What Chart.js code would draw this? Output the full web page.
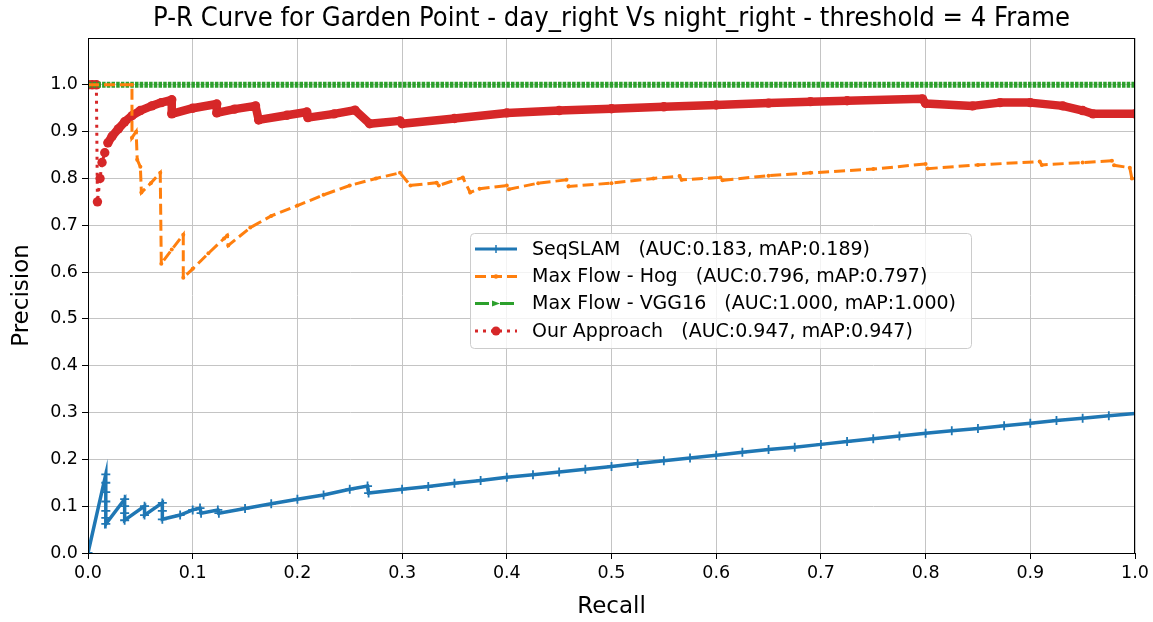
<!DOCTYPE html>
<html>
<head>
<meta charset="utf-8">
<script src="https://cdn.jsdelivr.net/npm/chart.js@4.4.1/dist/chart.umd.min.js"></script>
<style>
    html, body { margin: 0; padding: 0; background: #fff; }
    #pr { display: block; }
</style>
</head>
<body>
<canvas id="pr" width="1153" height="622"></canvas>
<script>
// ============================================================================
// Data
// ============================================================================

const seqRecall = [0, 0.017, 0.017, 0.017, 0.017, 0.017, 0.017, 0.017, 0.035, 0.035, 0.035, 0.035,
    0.054, 0.054, 0.071, 0.071, 0.071, 0.088, 0.1, 0.107, 0.108, 0.124, 0.125, 0.15, 0.175, 0.2,
    0.225, 0.25, 0.267, 0.268, 0.3, 0.325, 0.35, 0.375, 0.4, 0.425, 0.45, 0.475, 0.5, 0.525,
    0.55, 0.575, 0.6, 0.625, 0.65, 0.675, 0.7, 0.725, 0.75, 0.775, 0.8, 0.825, 0.85, 0.875,
    0.9, 0.925, 0.95, 0.975, 1.0];
const seqPrecision = [0, 0.168, 0.15, 0.13, 0.11, 0.09, 0.075, 0.062, 0.115, 0.1, 0.085, 0.07,
    0.1, 0.081, 0.107, 0.09, 0.072, 0.081, 0.092, 0.096, 0.085, 0.092, 0.085, 0.095, 0.105, 0.115,
    0.124, 0.136, 0.143, 0.128, 0.136, 0.142, 0.149, 0.155, 0.162, 0.167, 0.173, 0.179, 0.185, 0.191,
    0.197, 0.203, 0.209, 0.215, 0.221, 0.226, 0.232, 0.238, 0.244, 0.25, 0.256, 0.261, 0.266, 0.272,
    0.277, 0.283, 0.288, 0.293, 0.298];

const hogRecall = [0, 0.042, 0.042, 0.046, 0.047, 0.05, 0.051, 0.06, 0.069, 0.07, 0.08, 0.091,
    0.091, 0.1, 0.115, 0.13, 0.133, 0.134, 0.155, 0.175, 0.2, 0.225, 0.25, 0.275, 0.298, 0.308,
    0.333, 0.335, 0.358, 0.365, 0.374, 0.4, 0.402, 0.43, 0.457, 0.459, 0.5, 0.54, 0.565, 0.567,
    0.604, 0.606, 0.65, 0.69, 0.75, 0.8, 0.802, 0.85, 0.909, 0.911, 0.95, 0.978, 0.98, 0.995,
    0.997, 1.0];
const hogPrecision = [1.0, 1.0, 0.887, 0.9, 0.84, 0.825, 0.77, 0.79, 0.812, 0.618, 0.648, 0.68,
    0.588, 0.607, 0.64, 0.672, 0.678, 0.657, 0.695, 0.72, 0.742, 0.765, 0.785, 0.8, 0.812, 0.785,
    0.791, 0.785, 0.802, 0.77, 0.778, 0.785, 0.777, 0.79, 0.797, 0.783, 0.79, 0.8, 0.805, 0.797,
    0.802, 0.796, 0.806, 0.812, 0.82, 0.831, 0.821, 0.829, 0.836, 0.829, 0.834, 0.838, 0.828, 0.823,
    0.8, 0.8];

const vggRecall = [0, 1.0];
const vggPrecision = [1.0, 1.0];

const oursRecall = [0, 0.004, 0.008, 0.009, 0.0115, 0.0134, 0.016, 0.019, 0.023, 0.029, 0.035,
    0.042, 0.05, 0.061, 0.07, 0.08, 0.08, 0.1, 0.123, 0.123, 0.14, 0.16, 0.163, 0.19, 0.209, 0.21,
    0.235, 0.255, 0.269, 0.298, 0.3, 0.35, 0.4, 0.45, 0.5, 0.55, 0.6, 0.65, 0.69, 0.725, 0.797,
    0.8, 0.845, 0.871, 0.9, 0.931, 0.95, 0.96, 1.0];
const oursPrecision = [1.0, 1.0, 1.0, 0.75, 0.8, 0.834, 0.855, 0.876, 0.89, 0.906, 0.921,
    0.934, 0.945, 0.955, 0.962, 0.968, 0.938, 0.95, 0.959, 0.94, 0.948, 0.955, 0.925, 0.935, 0.942, 0.93,
    0.938, 0.946, 0.917, 0.923, 0.917, 0.928, 0.94, 0.945, 0.949, 0.953, 0.957, 0.961, 0.964, 0.966, 0.97,
    0.96, 0.955, 0.962, 0.962, 0.955, 0.945, 0.938, 0.938];

const seriesLabels = [
    'SeqSLAM   (AUC:0.183, mAP:0.189)',
    'Max Flow - Hog   (AUC:0.796, mAP:0.797)',
    'Max Flow - VGG16   (AUC:1.000, mAP:1.000)',
    'Our Approach   (AUC:0.947, mAP:0.947)'
];
const xTicks = [0, 0.1, 0.2, 0.3, 0.4, 0.5, 0.6, 0.7, 0.8, 0.9, 1.0];
const yTicks = [0, 0.1, 0.2, 0.3, 0.4, 0.5, 0.6, 0.7, 0.8, 0.9, 1.0];

const chartTitle = 'P-R Curve for Garden Point - day_right Vs night_right - threshold = 4 Frame';

// ============================================================================
// Styling
// ============================================================================

const FONT = "'DejaVu Sans', sans-serif";
const COLORS = {
    blue: '#1f77b4',
    orange: '#ff7f0e',
    green: '#2ca02c',
    red: '#d62728'
};

const toPoints = (xs, ys) => xs.map((x, i) => ({ x, y: ys[i] }));

// red curve: first few points are joined by a thin dotted line
const isThinRed = (i) => i >= 2 && i < 7;

/**
 * Matplotlib style frame, title and legend
 */
const mplDecor = {
    id: 'mplDecor',
    afterDatasetsDraw(chart) {
        const { ctx, chartArea: a } = chart;
        ctx.save();

        // frame
        ctx.strokeStyle = '#000';
        ctx.lineWidth = 1;
        ctx.strokeRect(a.left + 0.5, a.top + 0.5, a.right - a.left - 1, a.bottom - a.top);

        // legend box
        const box = { x: 470, y: 233, w: 501, h: 115 };
        ctx.fillStyle = 'rgba(255,255,255,0.8)';
        ctx.strokeStyle = '#cccccc';
        ctx.beginPath();
        ctx.roundRect(box.x + 0.5, box.y + 0.5, box.w, box.h, 4);
        ctx.fill();
        ctx.stroke();

        const rowY = [249, 276.5, 303.5, 331];
        chart.data.datasets.forEach((ds, i) => {
            const y = rowY[i];
            const x0 = 475, x1 = 517, xm = (x0 + x1) / 2;
            ctx.strokeStyle = ds.borderColor;
            ctx.lineWidth = ds.legendWidth;
            ctx.setLineDash(ds.legendDash || []);
            ctx.beginPath();
            ctx.moveTo(x0, y);
            ctx.lineTo(x1, y);
            ctx.stroke();
            ctx.setLineDash([]);

            ctx.fillStyle = ds.borderColor;
            ctx.strokeStyle = ds.borderColor;
            if (ds.legendMarker === 'plus') {
                ctx.lineWidth = 1.5;
                ctx.beginPath();
                ctx.moveTo(xm, y - 4); ctx.lineTo(xm, y + 4);
                ctx.stroke();
            } else if (ds.legendMarker === 'dot') {
                ctx.beginPath(); ctx.arc(xm, y, 2.2, 0, Math.PI * 2); ctx.fill();
            } else if (ds.legendMarker === 'star') {
                ctx.beginPath();
                ctx.moveTo(xm - 4, y - 3); ctx.lineTo(xm + 4, y); ctx.lineTo(xm - 4, y + 3);
                ctx.closePath(); ctx.fill();
            } else if (ds.legendMarker === 'circle') {
                ctx.beginPath(); ctx.arc(xm, y, 4.5, 0, Math.PI * 2); ctx.fill();
            }

            ctx.fillStyle = '#000';
            ctx.font = '19px ' + FONT;
            ctx.textBaseline = 'middle';
            ctx.textAlign = 'left';
            ctx.fillText(ds.label, 532, y + 1);
        });

        // title, squeezed to the reference width
        ctx.font = '26px ' + FONT;
        ctx.textAlign = 'center';
        ctx.textBaseline = 'middle';
        ctx.fillStyle = '#000';
        const w = ctx.measureText(chartTitle).width;
        const sx = Math.min(1, 917 / w);
        ctx.translate((a.left + a.right) / 2, 19);
        ctx.scale(sx, 1);
        ctx.fillText(chartTitle, 0, 0);

        ctx.restore();
    }
};

const tickFont = { family: FONT, size: 17.5 };
const axisTitleFont = { family: FONT, size: 23 };
const gridStyle = {
    color: '#c4c4c4',
    lineWidth: 1,
    tickColor: '#000',
    tickLength: 6,
    drawTicks: true
};

new Chart(document.getElementById('pr'), {
    type: 'scatter',
    data: {
        datasets: [
            {
                label: seriesLabels[0],
                data: toPoints(seqRecall, seqPrecision),
                showLine: true,
                borderColor: COLORS.blue,
                backgroundColor: COLORS.blue,
                borderWidth: 3.5,
                pointStyle: 'cross',
                pointRadius: 4.5,
                pointBorderWidth: 1.8,
                legendWidth: 3,
                legendMarker: 'plus'
            },
            {
                label: seriesLabels[1],
                data: toPoints(hogRecall, hogPrecision),
                showLine: true,
                borderColor: COLORS.orange,
                backgroundColor: COLORS.orange,
                borderWidth: 3,
                borderDash: [11, 5],
                pointRadius: 2,
                pointBorderWidth: 0,
                legendWidth: 3,
                legendDash: [11, 5],
                legendMarker: 'dot'
            },
            {
                label: seriesLabels[2],
                data: toPoints(vggRecall, vggPrecision),
                showLine: true,
                borderColor: COLORS.green,
                backgroundColor: COLORS.green,
                borderWidth: 6,
                borderDash: [3.5, 1.2],
                pointRadius: 0,
                legendWidth: 3,
                legendDash: [14, 4, 3, 4],
                legendMarker: 'star'
            },
            {
                label: seriesLabels[3],
                data: toPoints(oursRecall, oursPrecision),
                showLine: true,
                borderColor: COLORS.red,
                backgroundColor: COLORS.red,
                borderWidth: 8,
                borderCapStyle: 'round',
                borderJoinStyle: 'round',
                pointRadius: 4.7,
                pointBorderWidth: 0,
                segment: {
                    borderWidth: c => isThinRed(c.p0DataIndex) ? 3 : 8.5,
                    borderDash: c => isThinRed(c.p0DataIndex) ? [3, 5] : [],
                    borderCapStyle: c => isThinRed(c.p0DataIndex) ? 'butt' : 'round'
                },
                legendWidth: 3,
                legendDash: [3, 5],
                legendMarker: 'circle'
            }
        ]
    },
    options: {
        responsive: false,
        animation: false,
        layout: {
            padding: { left: 0, right: 18, top: 38, bottom: 0 }
        },
        plugins: {
            legend: { display: false },
            tooltip: { enabled: false },
            title: { display: false }
        },
        scales: {
            x: {
                type: 'linear',
                min: 0,
                max: 1,
                afterFit: (s) => { s.height = 69; },
                afterBuildTicks: (s) => { s.ticks = xTicks.map(v => ({ value: v })); },
                ticks: {
                    font: tickFont,
                    color: '#000',
                    padding: 4,
                    maxRotation: 0,
                    callback: (v) => v.toFixed(1)
                },
                grid: gridStyle,
                border: { display: true, color: '#000' },
                title: {
                    display: true,
                    text: 'Recall',
                    font: axisTitleFont,
                    color: '#000',
                    padding: { top: 0, bottom: 1 }
                }
            },
            y: {
                type: 'linear',
                min: 0,
                max: 1.1,
                afterFit: (s) => { s.width = 88; },
                afterBuildTicks: (s) => { s.ticks = yTicks.map(v => ({ value: v })); },
                ticks: {
                    font: tickFont,
                    color: '#000',
                    padding: 4,
                    callback: (v) => v.toFixed(1)
                },
                grid: gridStyle,
                border: { display: true, color: '#000' },
                title: {
                    display: true,
                    text: 'Precision',
                    font: axisTitleFont,
                    color: '#000',
                    padding: { top: 8, bottom: 0 }
                }
            }
        }
    },
    plugins: [mplDecor]
});
</script>
</body>
</html>
